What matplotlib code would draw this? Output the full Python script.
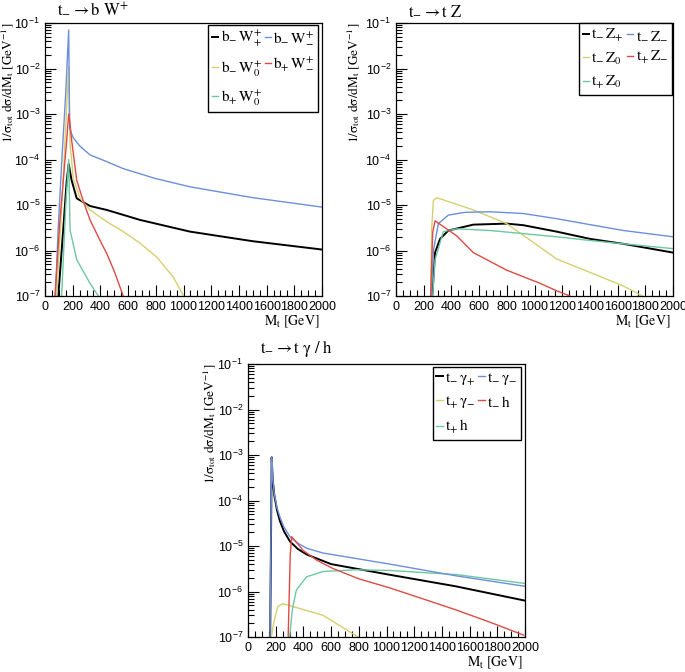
import numpy as np
import matplotlib
matplotlib.use("Agg")
import matplotlib.pyplot as plt
from matplotlib.ticker import MultipleLocator, LogLocator, NullFormatter

plt.rcParams["font.family"] = ["Liberation Sans", "DejaVu Sans"]
plt.rcParams["mathtext.fontset"] = "stix"

BLACK = "#000000"
BLUE = "#6d8fdb"
YELLOW = "#d6cf70"
RED = "#e04a44"
GREEN = "#6cc7a2"

# --- t- -> b W+ ---
bw_pp_m = [96, 130, 156, 171, 180, 192, 229, 325, 445, 686, 1047, 1500, 2000]
bw_pp_v = [1e-7, 2.5e-6, 3.2e-5, 8e-5, 5.6e-5, 3.5e-5, 1.4e-5, 9.5e-6, 7.8e-6, 4.7e-6, 2.6e-6, 1.6e-6, 1.05e-6]
bw_mm_m = [75, 95, 120, 150, 171, 178, 190, 204, 250, 325, 445, 565, 800, 1050, 1500, 2000]
bw_mm_v = [1e-7, 3e-6, 8e-5, 3e-3, 7e-2, 5e-4, 3.8e-4, 3.0e-4, 2.0e-4, 1.26e-4, 9e-5, 6.3e-5, 3.8e-5, 2.5e-5, 1.45e-5, 9e-6]
bw_m0_m = [85, 130, 171, 180, 204, 253, 325, 445, 565, 686, 806, 927, 1000]
bw_m0_v = [1e-7, 3.2e-5, 1.1e-2, 2.5e-4, 3.8e-5, 1.4e-5, 7.8e-6, 4.3e-6, 2.6e-6, 1.45e-6, 7.2e-7, 2.6e-7, 1e-7]
bw_pm_m = [72, 108, 157, 171, 180, 192, 229, 277, 325, 400, 445, 500, 565]
bw_pm_v = [1e-7, 4.7e-6, 2.7e-4, 1e-3, 6.3e-4, 2.7e-4, 3.5e-5, 1.2e-5, 4.7e-6, 1.6e-6, 8.7e-7, 3.5e-7, 1e-7]
bw_p0_m = [120, 150, 171, 181, 229, 325, 385]
bw_p0_v = [1e-7, 1e-5, 1e-4, 2.8e-6, 6.3e-7, 1.9e-7, 1e-7]

# --- t- -> t Z ---
tz_mp_m = [262, 282, 318, 378, 558, 799, 919, 1160, 1401, 1642, 2000]
tz_mp_v = [1e-7, 9e-7, 1.8e-6, 2.75e-6, 3.7e-6, 3.9e-6, 3.6e-6, 2.6e-6, 1.8e-6, 1.4e-6, 9e-7]
tz_mm_m = [255, 270, 306, 378, 498, 679, 919, 1160, 1401, 1642, 2000]
tz_mm_v = [1e-7, 1e-6, 3.9e-6, 6e-6, 6.9e-6, 7.1e-6, 6.5e-6, 5e-6, 3.7e-6, 2.75e-6, 2e-6]
tz_m0_m = [250, 258, 270, 294, 558, 799, 967, 1160, 1401, 1642, 1780]
tz_m0_v = [1e-7, 3.2e-6, 1.26e-5, 1.45e-5, 7.8e-6, 3.9e-6, 1.7e-6, 6.5e-7, 3.3e-7, 1.66e-7, 1e-7]
tz_pm_m = [250, 265, 282, 438, 558, 799, 1040, 1160, 1256]
tz_pm_v = [1e-7, 2.5e-6, 4.5e-6, 2.1e-6, 9e-7, 3.7e-7, 1.9e-7, 1.3e-7, 1e-7]
tz_p0_m = [265, 282, 342, 438, 679, 919, 1160, 1401, 1642, 2000]
tz_p0_v = [1e-7, 6.3e-7, 2.6e-6, 3e-6, 2.75e-6, 2.35e-6, 2e-6, 1.66e-6, 1.4e-6, 1.1e-6]

# --- t- -> t gamma / h ---
tg_mp_m = [160, 171, 178, 190, 210, 231, 260, 303, 360, 424, 600, 1000, 1500, 2000]
tg_mp_v = [1e-7, 8.9e-4, 3.0e-4, 1.3e-4, 6.0e-5, 3.5e-5, 2.1e-5, 1.26e-5, 8.6e-6, 6.5e-6, 4e-6, 2.4e-6, 1.3e-6, 6.3e-7]
tg_mm_m = [159, 171, 178, 190, 210, 231, 260, 303, 360, 424, 542, 1024, 1506, 2000]
tg_mm_v = [1e-7, 8.9e-4, 3.2e-4, 1.4e-4, 6.8e-5, 4.3e-5, 2.6e-5, 1.6e-5, 1.15e-5, 8.9e-6, 7.0e-6, 4e-6, 2.2e-6, 1.3e-6]
tg_pm_m = [169, 185, 215, 253, 400, 542, 795]
tg_pm_v = [1e-7, 2e-7, 4.7e-7, 5.4e-7, 4e-7, 3e-7, 1e-7]
th_m_m = [290, 305, 315, 400, 500, 614, 800, 1024, 1250, 1506, 1750, 1990]
th_m_v = [1e-7, 6.3e-6, 1.6e-5, 7.9e-6, 4.8e-6, 3.2e-6, 1.9e-6, 1.2e-6, 7.1e-7, 3.9e-7, 2.1e-7, 1.1e-7]
th_p_m = [301, 320, 349, 422, 542, 783, 1024, 1506, 2000]
th_p_v = [1e-7, 4e-7, 1.07e-6, 2.1e-6, 2.75e-6, 3e-6, 2.9e-6, 2.35e-6, 1.5e-6]

YLABEL = r"$\mathrm{1/\sigma_{tot}\ d\sigma/dM_{t}\ [GeV^{-1}]}$"
XLABEL = r"$\mathrm{M_{t}\ [GeV]}$"


def style_axes(ax, title, ylab_x):
    ax.set_yscale("log")
    ax.set_xlim(0, 2000)
    ax.set_ylim(1e-7, 1e-1)
    ax.xaxis.set_major_locator(MultipleLocator(200))
    ax.xaxis.set_minor_locator(MultipleLocator(50))
    ax.yaxis.set_major_locator(LogLocator(base=10, numticks=10))
    ax.yaxis.set_minor_locator(LogLocator(base=10, subs=np.arange(2, 10), numticks=100))
    ax.yaxis.set_minor_formatter(NullFormatter())
    ax.tick_params(which="major", direction="in", length=8, width=0.8, labelsize=9,
                   top=False, right=False)
    ax.tick_params(which="minor", direction="in", length=4, width=0.8, top=False, right=False)
    for s in ax.spines.values():
        s.set_linewidth(0.9)
    ax.set_ylabel(YLABEL, loc="top", fontsize=9.5)
    ax.yaxis.set_label_coords(ylab_x, 1.0)
    ax.set_xlabel(XLABEL, loc="right", fontsize=10)
    ax.xaxis.set_label_coords(0.99, -0.065)
    ax.text(0.045, 1.02, title, transform=ax.transAxes, fontsize=12, ha="left", va="bottom")


def add_legend(ax, anchor, spacing):
    leg = ax.legend(ncol=2, loc="upper right", bbox_to_anchor=anchor, fontsize=11,
                    handlelength=0.4, handletextpad=0.15, columnspacing=0.2,
                    labelspacing=spacing, borderpad=0.25, borderaxespad=0, fancybox=False,
                    framealpha=1)
    leg.get_frame().set_edgecolor("black")
    leg.get_frame().set_linewidth(1.0)


fig = plt.figure(figsize=(6.85, 6.72), dpi=100)
W, H = 277 / 685, 273 / 672
ax1 = fig.add_axes([45 / 685, 1 - 296 / 672, W, H])
ax2 = fig.add_axes([396 / 685, 1 - 296 / 672, W, H])
ax3 = fig.add_axes([248 / 685, 1 - 637 / 672, W, H])

lw = 1.0
# panel 1 (legend order is column-major)
ax1.plot(bw_pp_m, bw_pp_v, color=BLACK, lw=1.4, label=r"$\mathrm{b_{-}\,W^{+}_{+}}$")
ax1.plot(bw_m0_m, bw_m0_v, color=YELLOW, lw=lw, label=r"$\mathrm{b_{-}\,W^{+}_{0}}$")
ax1.plot(bw_p0_m, bw_p0_v, color=GREEN, lw=lw, label=r"$\mathrm{b_{+}\,W^{+}_{0}}$")
ax1.plot(bw_mm_m, bw_mm_v, color=BLUE, lw=lw, label=r"$\mathrm{b_{-}\,W^{+}_{-}}$")
ax1.plot(bw_pm_m, bw_pm_v, color=RED, lw=lw, label=r"$\mathrm{b_{+}\,W^{+}_{-}}$")
style_axes(ax1, r"$\mathrm{t_{-} \rightarrow b\ W^{+}}$", -0.106)
add_legend(ax1, (0.986, 0.993), 0.65)

# panel 2
ax2.plot(tz_mp_m, tz_mp_v, color=BLACK, lw=1.4, label=r"$\mathrm{t_{-}\,Z_{+}}$")
ax2.plot(tz_m0_m, tz_m0_v, color=YELLOW, lw=lw, label=r"$\mathrm{t_{-}\,Z_{0}}$")
ax2.plot(tz_p0_m, tz_p0_v, color=GREEN, lw=lw, label=r"$\mathrm{t_{+}\,Z_{0}}$")
ax2.plot(tz_mm_m, tz_mm_v, color=BLUE, lw=lw, label=r"$\mathrm{t_{-}\,Z_{-}}$")
ax2.plot(tz_pm_m, tz_pm_v, color=RED, lw=lw, label=r"$\mathrm{t_{+}\,Z_{-}}$")
style_axes(ax2, r"$\mathrm{t_{-} \rightarrow t\ Z}$", -0.124)
add_legend(ax2, (0.996, 1.0), 0.45)

# panel 3
ax3.plot(tg_mp_m, tg_mp_v, color=BLACK, lw=1.4, label=r"$\mathrm{t_{-}\,\gamma_{+}}$")
ax3.plot(tg_pm_m, tg_pm_v, color=YELLOW, lw=lw, label=r"$\mathrm{t_{+}\,\gamma_{-}}$")
ax3.plot(th_p_m, th_p_v, color=GREEN, lw=lw, label=r"$\mathrm{t_{+}\,h}$")
ax3.plot(tg_mm_m, tg_mm_v, color=BLUE, lw=lw, label=r"$\mathrm{t_{-}\,\gamma_{-}}$")
ax3.plot(th_m_m, th_m_v, color=RED, lw=lw, label=r"$\mathrm{t_{-}\,h}$")
style_axes(ax3, r"$\mathrm{t_{-} \rightarrow t\ \gamma\ /\ h}$", -0.11)
add_legend(ax3, (0.986, 0.989), 0.5)

fig.savefig("out.png", dpi=100)
